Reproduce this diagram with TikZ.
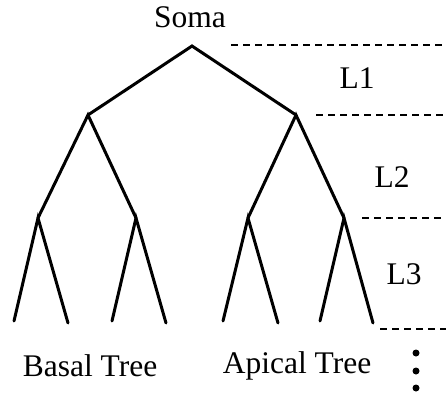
\documentclass[tikz,border=0pt]{standalone}
\usepackage{fontspec}
\setmainfont{Liberation Serif}
\begin{document}
\begin{tikzpicture}[x=1pt,y=-1pt,
  branch/.style={line width=3pt,line cap=round},
  level/.style={line width=2.6pt,dash pattern=on 7pt off 5pt},
  lbl/.style={font=\fontsize{31.5}{36}\selectfont,inner sep=0pt},
  dot/.style={circle,fill=black,inner sep=0pt,minimum size=7pt}]
\useasboundingbox (0,0) rectangle (446,396);
% soma and tree vertices
\coordinate (s) at (192,46);
\coordinate (b) at (88,115);
\coordinate (a) at (296,115);
\coordinate (b1) at (38,218);
\coordinate (b2) at (136,218);
\coordinate (a1) at (248,218);
\coordinate (a2) at (344,218);
\coordinate (b11) at (14,321);
\coordinate (b12) at (68,323);
\coordinate (b21) at (112,321);
\coordinate (b22) at (166,323);
\coordinate (a11) at (223,321);
\coordinate (a12) at (278,323);
\coordinate (a21) at (320,321);
\coordinate (a22) at (373,323);
\draw[branch] (b) -- (s) -- (a);
\draw[branch] (b1) -- (b) -- (b2);
\draw[branch] (a1) -- (a) -- (a2);
\draw[branch] (b11) -- (b1) -- (b12);
\draw[branch] (b21) -- (b2) -- (b22);
\draw[branch] (a11) -- (a1) -- (a12);
\draw[branch] (a21) -- (a2) -- (a22);
% level boundaries
\coordinate (d1) at (231,45);  \coordinate (e1) at (446,45);
\coordinate (d2) at (316,115); \coordinate (e2) at (446,115);
\coordinate (d3) at (362,218); \coordinate (e3) at (446,218);
\coordinate (d4) at (380,329); \coordinate (e4) at (446,329);
\draw[level] (d1) -- (e1);
\draw[level] (d2) -- (e2);
\draw[level] (d3) -- (e3);
\draw[level] (d4) -- (e4);
% labels
\node[lbl] (soma) at (190,17) {Soma};
\node[lbl] (l1) at (357,78) {L1};
\node[lbl] (l2) at (392,177) {L2};
\node[lbl] (l3) at (404,274) {L3};
\node[lbl] (basal) at (90,366) {Basal Tree};
\node[lbl] (apical) at (297,366) {Apical Tree};
\node[dot] (v1) at (416,353) {};
\node[dot] (v2) at (416,371) {};
\node[dot] (v3) at (416,388) {};
\end{tikzpicture}
\end{document}
